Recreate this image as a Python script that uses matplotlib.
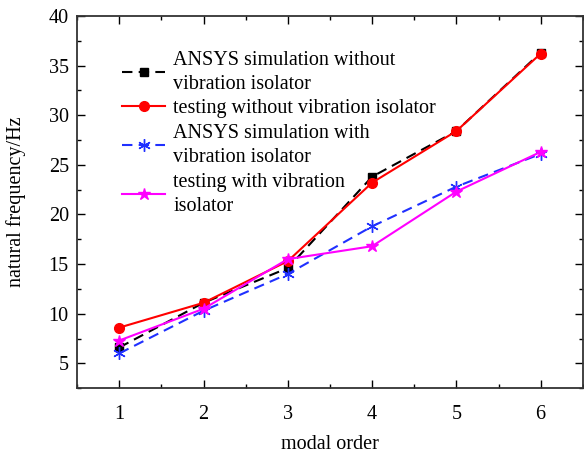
import matplotlib
matplotlib.use("Agg")
import matplotlib.pyplot as plt
from matplotlib.ticker import MultipleLocator

plt.rcParams['font.family'] = ['Liberation Serif', 'DejaVu Serif']
plt.rcParams['mathtext.fontset'] = 'stix'

modes = [1, 2, 3, 4, 5, 6]
ansys_without = [6.6, 11.1, 14.6, 23.8, 28.4, 36.3]
test_without = [8.6, 11.1, 15.3, 23.2, 28.4, 36.2]
ansys_with = [6.0, 10.3, 14.0, 18.8, 22.8, 26.1]
test_with = [7.3, 10.5, 15.5, 16.8, 22.3, 26.3]

labels = ["ANSYS simulation without\nvibration isolator",
          "testing without vibration isolator",
          "ANSYS simulation with\nvibration isolator",
          "testing with vibration\nisolator"]

fig = plt.figure(figsize=(5.84, 4.54), dpi=100)
ax = fig.add_axes([0.132, 0.145, 0.866, 0.82])

ax.plot(modes, ansys_without, color='black', ls=(0, (5, 3)), lw=1.5, marker='s', ms=6, label=labels[0])
ax.plot(modes, test_without, color='#ff0000', ls='-', lw=1.5, marker='o', ms=7, label=labels[1])
ax.plot(modes, ansys_with, color='#2030ff', ls=(0, (5, 3)), lw=1.5, marker=(6, 2, 0), ms=9, mew=1, label=labels[2])
ax.plot(modes, test_with, color='#ff00ff', ls='-', lw=1.5, marker='*', ms=9, label=labels[3])

ax.set_xlim(0.5, 6.5)
ax.set_ylim(2.5, 40)
ax.xaxis.set_major_locator(MultipleLocator(1))
ax.xaxis.set_minor_locator(MultipleLocator(0.5))
ax.yaxis.set_major_locator(MultipleLocator(5))
ax.yaxis.set_minor_locator(MultipleLocator(2.5))
ax.tick_params(which='both', direction='in', top=True, right=True, labelsize=14.5)
ax.tick_params(which='major', length=6, width=1)
ax.tick_params(which='minor', length=3, width=1)
ax.tick_params(axis='x', pad=12)
ax.tick_params(axis='y', pad=6)
for s in ax.spines.values():
    s.set_linewidth(1.3)
    s.set_color('#333333')

ax.set_xlabel("modal order", fontsize=14.5, labelpad=8)
ax.set_ylabel("natural frequency/Hz", fontsize=14.5, labelpad=16)

leg = ax.legend(loc='upper left', bbox_to_anchor=(0.053, 0.955), frameon=False, fontsize=14.5,
                handlelength=2.15, handletextpad=0.4, labelspacing=0.27)
for t in leg.get_texts():
    t.set_linespacing(1.37)

fig.savefig("out.png", dpi=100)
